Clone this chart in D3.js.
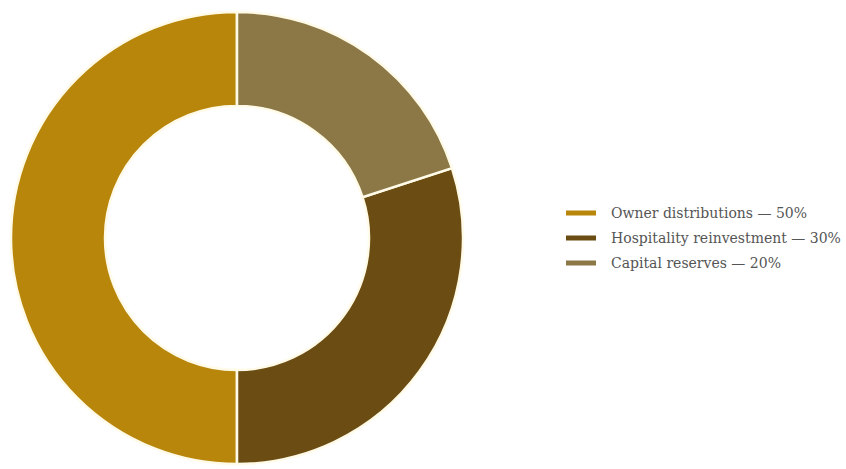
<!DOCTYPE html>
<html>
<head>
<meta charset="utf-8">
<script src="https://cdn.jsdelivr.net/npm/d3@7"></script>
<style>
  html, body { margin: 0; padding: 0; background: #ffffff; }
  svg { display: block; }
</style>
</head>
<body>
<svg id="chart" width="846" height="469"></svg>
<script>
// Allocation of proceeds
const categories = ["Owner distributions", "Hospitality reinvestment", "Capital reserves"];
const shares = [50, 30, 20];
const colors = ["#B8860B", "#6B4C12", "#8C7846"];

const svg = d3.select("#chart");
const cx = 237, cy = 238;
const outerR = 226, innerR = 132;

const data = categories.map((c, i) => ({ name: c, value: shares[i], color: colors[i] }));

// Slices run counter-clockwise from 12 o'clock
const pie = d3.pie().value(d => d.value).sort(null)
  .startAngle(0).endAngle(-2 * Math.PI);
const arc = d3.arc().innerRadius(innerR).outerRadius(outerR);

svg.append("g")
  .attr("transform", `translate(${cx},${cy})`)
  .selectAll("path")
  .data(pie(data))
  .join("path")
  .attr("d", arc)
  .attr("fill", d => d.data.color)
  .attr("stroke", "#fffbe8")
  .attr("stroke-width", 2.5);

// Legend
const legend = svg.append("g").attr("transform", "translate(566,213)");
const rowH = 25;
const rows = legend.selectAll("g")
  .data(data)
  .join("g")
  .attr("transform", (d, i) => `translate(0,${i * rowH})`);

rows.append("rect")
  .attr("x", 0).attr("y", -2.5)
  .attr("width", 30).attr("height", 5)
  .attr("fill", d => d.color);

rows.append("text")
  .attr("x", 45).attr("y", 0)
  .attr("dy", "0.35em")
  .attr("font-family", "Georgia, 'DejaVu Serif', 'Liberation Serif', serif")
  .attr("font-size", 14)
  .attr("fill", "#555555")
  .text(d => `${d.name} — ${d.value}%`);
</script>
</body>
</html>
